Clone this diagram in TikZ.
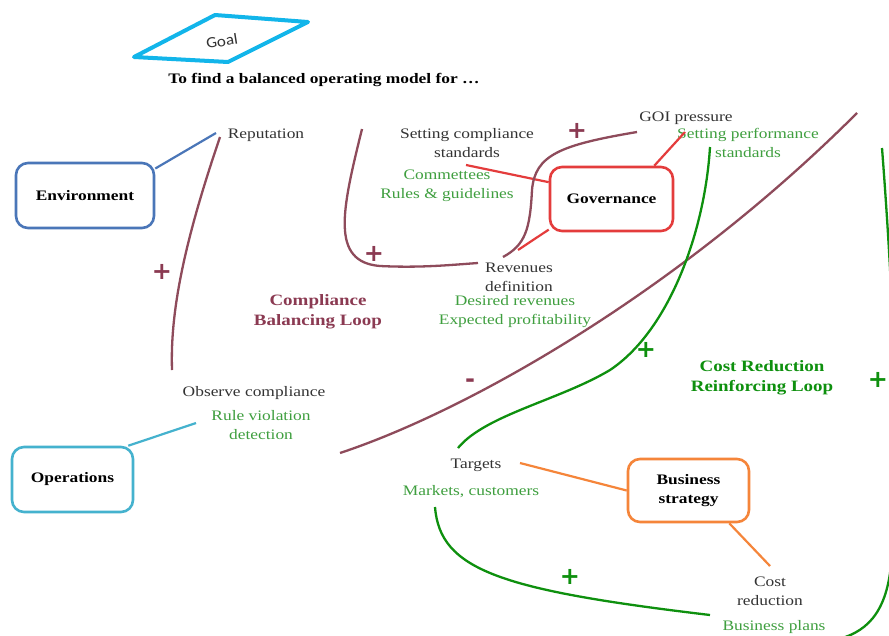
\documentclass[tikz,border=0pt]{standalone}
\usepackage{fontspec}
\setmainfont{Liberation Serif}[FakeStretch=1.2]
\newfontfamily\goalfont{Carlito}[FakeStretch=1.1]
\newfontfamily\signfont{DejaVu Sans Bold}
\definecolor{envblue}{HTML}{4A76B8}
\definecolor{opscyan}{HTML}{45B2CE}
\definecolor{govred}{HTML}{E43C3C}
\definecolor{bsorange}{HTML}{F5853A}
\definecolor{goalcyan}{HTML}{12B5EA}
\definecolor{loopmaroon}{HTML}{8E4B5B}
\definecolor{maroontext}{HTML}{8B3A52}
\definecolor{loopgreen}{HTML}{0E900E}
\definecolor{softgreen}{HTML}{3F9F3F}
\definecolor{darktext}{HTML}{333333}
\tikzset{
  boxnode/.style={draw, rounded corners=12pt, line width=2.6pt, font=\fontsize{14.5}{19}\selectfont\bfseries, align=center, text=black},
  lbl/.style={text=darktext, align=center, inner sep=1pt},
  glbl/.style={text=softgreen, align=center, inner sep=1pt},
  looplbl/.style={font=\fontsize{15.8}{20}\selectfont\bfseries, align=center, inner sep=1pt},
  conn/.style={line width=2.2pt},
  mcurve/.style={draw=loopmaroon, line width=2.3pt},
  gcurve/.style={draw=loopgreen, line width=2.3pt},
  sign/.style={font=\signfont\fontsize{24}{24}\selectfont, inner sep=0pt}
}
\begin{document}
\begin{tikzpicture}[x=1pt,y=-1pt,font=\fontsize{14.5}{19}\selectfont]
\useasboundingbox (0,0) rectangle (889,635);
\fill[white] (0,0) rectangle (889,635);

% Goal
\coordinate (g1) at (134,57);
\coordinate (g2) at (215,15);
\coordinate (g3) at (308,22);
\coordinate (g4) at (228,62);
\draw[goalcyan, line width=4pt, line join=round] (g1) -- (g2) -- (g3) -- (g4) -- cycle;
\node[rotate=9, text=darktext, font=\goalfont\fontsize{15.5}{15.5}\selectfont] (goal) at (222,41) {Goal};
\node[font=\fontsize{14.5}{19}\selectfont\bfseries, text=black] (title) at (324,80) {To find a balanced operating model for …};

% boxes
\node[boxnode, draw=envblue, minimum width=138pt, minimum height=65pt] (env) at (85,195.5) {Environment};
\node[boxnode, draw=opscyan, minimum width=121pt, minimum height=65pt] (ops) at (72.5,479.5) {Operations};
\node[boxnode, draw=govred, minimum width=123pt, minimum height=64pt] (gov) at (611.5,199) {Governance};
\node[boxnode, draw=bsorange, minimum width=121pt, minimum height=63pt] (bs) at (688.5,490.5) {Business\\strategy};

% text labels
\node[lbl] (rep) at (266,135) {Reputation};
\node[lbl] (scs) at (467,143) {Setting compliance\\standards};
\node[glbl] (comm) at (447,186) {Commettees\\Rules \& guidelines};
\node[lbl] (goi) at (686,118) {GOI pressure};
\node[glbl] (sps) at (748,143) {Setting performance\\standards};
\node[lbl] (rev) at (519,277) {Revenues\\definition};
\node[glbl] (des) at (515,312) {Desired revenues\\Expected profitability};
\node[looplbl, text=maroontext] (cbl) at (318,312) {Compliance\\Balancing Loop};
\node[looplbl, text=loopgreen] (crl) at (762,378) {Cost Reduction\\Reinforcing Loop};
\node[lbl] (obs) at (254,393) {Observe compliance};
\node[glbl] (rv) at (261,425) {Rule violation\\detection};
\node[lbl] (tg) at (476,465) {Targets};
\node[glbl] (mk) at (471,492) {Markets, customers};
\node[lbl] (cost) at (770,591) {Cost\\reduction};
\node[glbl] (bp) at (774,627) {Business plans};

% connector end points
\coordinate (repend) at (216,133);
\coordinate (rvend) at (196,423);
\coordinate (scsend) at (466,165);
\coordinate (revend) at (518,250);
\coordinate (spsend) at (685,132);
\coordinate (tgend) at (520,463);
\coordinate (costend) at (770,566);

% connectors
\draw[conn, envblue] (env.21) -- (repend);
\draw[conn, opscyan] ([xshift=-6pt]ops.north east) -- (rvend);
\draw[conn, govred] (gov.165) -- (scsend);
\draw[conn, govred] (gov.206) -- (revend);
\draw[conn, govred] ([xshift=-20pt]gov.north east) -- (spsend);
\draw[conn, bsorange] (bs.west) -- (tgend);
\draw[conn, bsorange] ([xshift=-21pt]bs.south east) -- (costend);

% loop curves
\coordinate (c1s) at (220,137);
\coordinate (c1e) at (172,370);
\coordinate (c2s) at (362,129);
\coordinate (c2e) at (478,263);
\coordinate (c3s) at (637,132);
\coordinate (c3e) at (503,257);
\coordinate (c4s) at (340,453);
\coordinate (c4e) at (857,113);
\coordinate (c5s) at (458,448);
\coordinate (c5e) at (710,147);
\coordinate (c6s) at (435,507);
\coordinate (c6e) at (710,615);
\coordinate (c7s) at (882,148);
\coordinate (c7e) at (835,640);

\draw[mcurve] (c1s) .. controls (185,240) and (170,310) .. (c1e);
\draw[mcurve] (c2s) .. controls (342,210) and (330,262) .. (380,266) .. controls (420,268) and (450,265) .. (c2e);
\draw[mcurve] (c3s) .. controls (560,145) and (535,155) .. (532,190) .. controls (530,230) and (525,245) .. (c3e);
\draw[mcurve] (c4s) .. controls (470,410) and (680,290) .. (c4e);
\draw[gcurve] (c5s) .. controls (485,415) and (560,400) .. (610,370) .. controls (670,330) and (705,230) .. (c5e);
\draw[gcurve] (c6s) .. controls (440,570) and (500,590) .. (c6e);
\draw[gcurve] (c7s) .. controls (896,330) and (899,470) .. (891,565) .. controls (886,615) and (865,633) .. (c7e);

% signs
\node[sign, text=maroontext] (p1) at (162,272) {+};
\node[sign, text=maroontext] (p2) at (577,131) {+};
\node[sign, text=maroontext] (p3) at (374,254) {+};
\node[sign, text=maroontext] (m1) at (470,383) {-};
\node[sign, text=loopgreen] (p4) at (646,350) {+};
\node[sign, text=loopgreen] (p5) at (878,380) {+};
\node[sign, text=loopgreen] (p6) at (570,577) {+};
\end{tikzpicture}
\end{document}
